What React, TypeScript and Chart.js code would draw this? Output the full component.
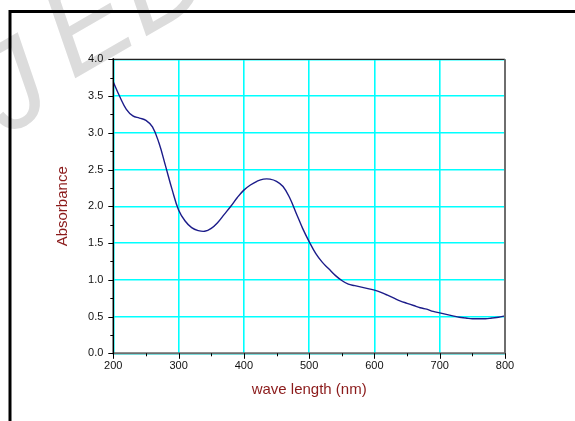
import { useEffect, useRef } from "react";
import { Chart, registerables } from "chart.js";

Chart.register(...registerables);

// UV-Vis absorption spectrum
const wavelengths = [
  200, 210, 220, 230, 240, 250, 260, 270, 280, 290, 300, 310, 320, 330, 340, 350,
  360, 370, 380, 390, 400, 410, 420, 430, 440, 450, 460, 470, 480, 490, 500, 510,
  520, 530, 540, 550, 560, 570, 580, 590, 600, 610, 620, 630, 640, 650, 660, 670,
  680, 690, 700, 710, 720, 730, 740, 750, 760, 770, 780, 790, 800,
];
const absorbance = [
  3.69, 3.49, 3.32, 3.23, 3.2, 3.17, 3.08, 2.86, 2.55, 2.23, 1.95, 1.8, 1.71, 1.67, 1.66, 1.7,
  1.78, 1.89, 2.0, 2.12, 2.22, 2.29, 2.34, 2.37, 2.37, 2.34, 2.27, 2.12, 1.91, 1.7, 1.52, 1.36,
  1.24, 1.15, 1.06, 0.99, 0.94, 0.92, 0.9, 0.88, 0.86, 0.83, 0.79, 0.75, 0.71, 0.68, 0.65, 0.62,
  0.6, 0.57, 0.55, 0.53, 0.51, 0.49, 0.48, 0.47, 0.47, 0.47, 0.48, 0.49, 0.51,
];
const xMajorTicks = [200, 300, 400, 500, 600, 700, 800];
const xMinorTicks = [250, 350, 450, 550, 650, 750];
const yMajorTicks = [0, 0.5, 1, 1.5, 2, 2.5, 3, 3.5, 4];
const yMinorTicks = [0.25, 0.75, 1.25, 1.75, 2.25, 2.75, 3.25, 3.75];

const xTitle = "wave length (nm)";
const yTitle = "Absorbance";
const watermarkLetters = ["J", "E", "D"];

const FONT = '"Liberation Sans", Arial, sans-serif';
const TITLE_COLOR = "#8b1a1a";
const GRID_COLOR = "#00ffff";

// glyph origins for the tilted background lettering
const watermarkOrigins = [
  [6, 136],
  [72, 80],
  [143, 38],
];

const decorPlugin = {
  id: "decor",
  beforeDraw(chart: any) {
    const { ctx, width, height } = chart;
    ctx.save();
    ctx.fillStyle = "#ffffff";
    ctx.fillRect(0, 0, width, height);
    ctx.font = `italic 122px ${FONT}`;
    ctx.fillStyle = "#dcdcdc";
    ctx.textBaseline = "alphabetic";
    watermarkLetters.forEach((ch, i) => {
      const [ox, oy] = watermarkOrigins[i];
      ctx.save();
      ctx.translate(ox, oy);
      ctx.rotate((-30 * Math.PI) / 180);
      ctx.fillText(ch, 0, 0);
      ctx.restore();
    });
    ctx.restore();
  },
  afterDraw(chart: any) {
    const { ctx, chartArea } = chart;
    const { left, right, top, bottom } = chartArea;
    const xs = chart.scales.x;
    const ys = chart.scales.y;
    ctx.save();

    // outer frame
    ctx.strokeStyle = "#000";
    ctx.lineWidth = 3;
    ctx.beginPath();
    ctx.moveTo(10, 440);
    ctx.lineTo(10, 11.5);
    ctx.lineTo(600, 11.5);
    ctx.stroke();

    // plot box
    ctx.lineWidth = 1.2;
    ctx.strokeStyle = "#222";
    ctx.beginPath();
    ctx.moveTo(left, top);
    ctx.lineTo(right, top);
    ctx.stroke();
    ctx.lineWidth = 2;
    ctx.strokeStyle = "#6e6e6e";
    ctx.beginPath();
    ctx.moveTo(right, top);
    ctx.lineTo(right, bottom);
    ctx.lineTo(left, bottom);
    ctx.stroke();
    ctx.lineWidth = 1.5;
    ctx.strokeStyle = "#000";
    ctx.beginPath();
    ctx.moveTo(left, top - 1);
    ctx.lineTo(left, bottom + 1);
    ctx.stroke();

    // tick marks
    ctx.lineWidth = 1;
    ctx.strokeStyle = "#000";
    ctx.beginPath();
    for (const v of yMajorTicks) {
      const y = Math.round(ys.getPixelForValue(v)) + 0.5;
      ctx.moveTo(left - 5, y);
      ctx.lineTo(left, y);
    }
    for (const v of yMinorTicks) {
      const y = Math.round(ys.getPixelForValue(v)) + 0.5;
      ctx.moveTo(left - 3, y);
      ctx.lineTo(left, y);
    }
    for (const v of xMajorTicks) {
      const x = Math.round(xs.getPixelForValue(v)) + 0.5;
      ctx.moveTo(x, bottom);
      ctx.lineTo(x, bottom + 5.5);
    }
    for (const v of xMinorTicks) {
      const x = Math.round(xs.getPixelForValue(v)) + 0.5;
      ctx.moveTo(x, bottom);
      ctx.lineTo(x, bottom + 3);
    }
    ctx.stroke();

    // axis titles
    ctx.fillStyle = TITLE_COLOR;
    ctx.font = `15px ${FONT}`;
    ctx.textAlign = "center";
    ctx.textBaseline = "middle";
    ctx.fillText(xTitle, (left + right) / 2, 390);
    ctx.translate(63, (top + bottom) / 2);
    ctx.rotate(-Math.PI / 2);
    ctx.fillText(yTitle, 0, 0);
    ctx.restore();
  },
};

export default function App() {
  const canvasRef = useRef<HTMLCanvasElement | null>(null);

  useEffect(() => {
    const canvas = canvasRef.current;
    if (!canvas) return;
    const points = wavelengths.map((w, i) => ({ x: w, y: absorbance[i] }));
    const chart = new Chart(canvas, {
      type: "line",
      data: {
        datasets: [
          {
            data: points,
            borderColor: "#1c1c8a",
            borderWidth: 1.4,
            pointRadius: 0,
            tension: 0.4,
            fill: false,
          },
        ],
      },
      options: {
        animation: false,
        responsive: false,
        devicePixelRatio: 1,
        layout: { padding: { left: 0, top: 59.3, right: 70, bottom: 0 } },
        plugins: {
          legend: { display: false },
          tooltip: { enabled: false },
        },
        scales: {
          x: {
            type: "linear",
            min: 200,
            max: 800,
            afterFit: (scale: any) => {
              scale.height = 67.7;
            },
            afterBuildTicks: (scale: any) => {
              scale.ticks = xMajorTicks.map((v) => ({ value: v }));
            },
            ticks: {
              padding: 6,
              color: "#111",
              font: { family: FONT, size: 11 },
              maxRotation: 0,
              autoSkip: false,
            },
            grid: { color: GRID_COLOR, lineWidth: 1.6, drawTicks: false },
            border: { display: false },
          },
          y: {
            type: "linear",
            min: 0,
            max: 4,
            afterFit: (scale: any) => {
              scale.width = 113.3;
            },
            afterBuildTicks: (scale: any) => {
              scale.ticks = yMajorTicks.map((v) => ({ value: v }));
            },
            ticks: {
              padding: 10,
              color: "#111",
              font: { family: FONT, size: 11 },
              autoSkip: false,
              callback: (v: any) => Number(v).toFixed(1),
            },
            grid: { color: GRID_COLOR, lineWidth: 1.6, drawTicks: false },
            border: { display: false },
          },
        },
      },
      plugins: [decorPlugin],
    });
    return () => chart.destroy();
  }, []);

  return (
    <div style={{ position: "fixed", left: 0, top: 0, width: 575, height: 421 }}>
      <canvas ref={canvasRef} width={575} height={421} />
    </div>
  );
}
